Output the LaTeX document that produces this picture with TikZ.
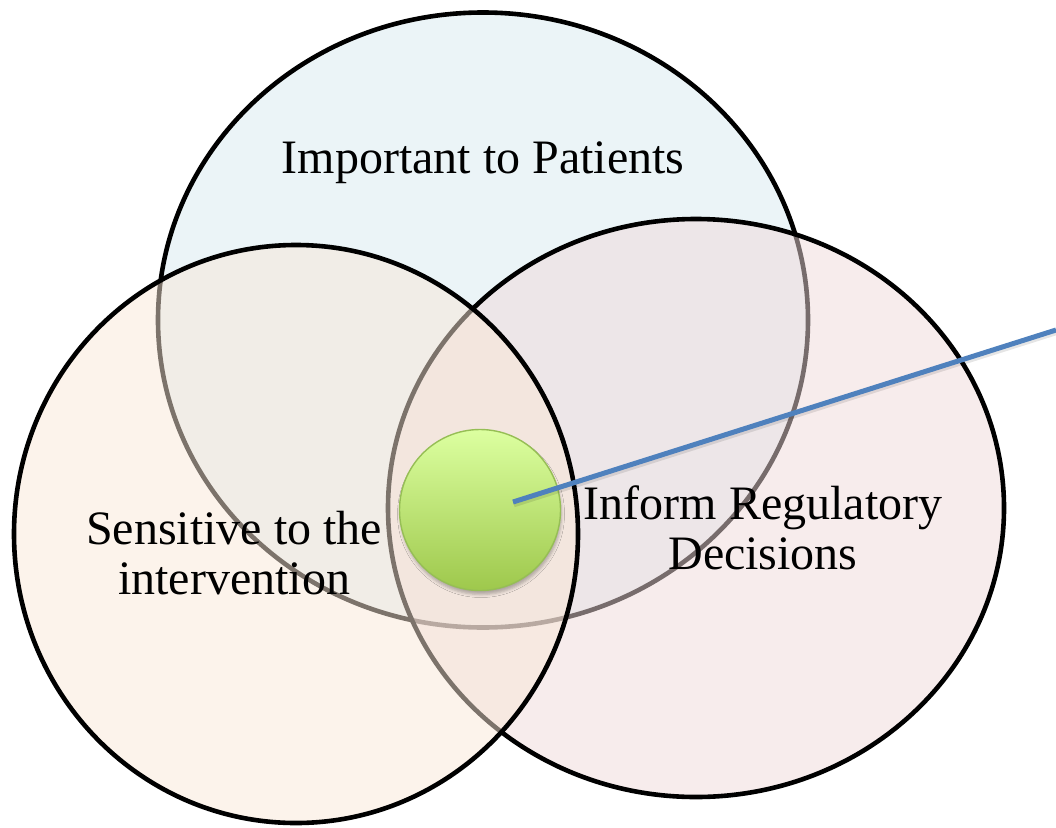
\documentclass[tikz,border=0pt]{standalone}
\usepackage{fontspec}
\setmainfont{Liberation Serif}
\usetikzlibrary{shapes.geometric,shadows.blur}
\definecolor{topfill}{RGB}{215,233,239}
\definecolor{rightfill}{RGB}{239,217,217}
\definecolor{leftfill}{RGB}{249,231,215}
\definecolor{greentop}{RGB}{220,255,160}
\definecolor{greenbot}{RGB}{158,200,76}
\definecolor{greenedge}{RGB}{150,190,85}
\definecolor{lineblue}{RGB}{79,129,189}
\tikzset{
  venn/.style={ellipse, draw=black, line width=4.6pt, fill opacity=0.5, draw opacity=1, inner sep=0pt, outer sep=0pt},
  core/.style={circle, minimum size=161pt, inner sep=0pt, draw=greenedge, line width=1.4pt,
    top color=greentop, bottom color=greenbot,
    blur shadow={shadow xshift=1pt, shadow yshift=-4pt, shadow blur radius=3pt, shadow opacity=28}},
  label/.style={font=\fontsize{48}{50}\selectfont, align=center, inner sep=0pt, text=black},
  blueline/.style={draw=lineblue, line width=5pt},
  lineshadow/.style={draw=black, line width=4.5pt, opacity=0.10}
}
\begin{document}
\begin{tikzpicture}[x=1pt,y=-1pt]
\useasboundingbox (0,0) rectangle (1056,827);
\node[venn, fill=topfill, minimum width=650pt, minimum height=615pt] (top) at (483,320) {};
\node[venn, fill=rightfill, minimum width=616pt, minimum height=578pt] (right) at (696,508) {};
\node[venn, fill=leftfill, minimum width=564pt, minimum height=578pt] (left) at (296,534) {};
\node[core] (green) at (480,510) {};
\coordinate (ls) at (513,502);
\coordinate (le) at (1056,330);
\coordinate (lss) at (514,505);
\coordinate (les) at (1056,333);
\draw[lineshadow] (lss) -- (les);
\draw[blueline] (ls) -- (le);
\node[label, anchor=base] (tpat) at (483,173) {Important to Patients};
\node[label, anchor=base] (tsen) at (234,594) {Sensitive to the\\intervention};
\node[label, anchor=base] (treg) at (763,569) {Inform Regulatory\\Decisions};
\end{tikzpicture}
\end{document}
